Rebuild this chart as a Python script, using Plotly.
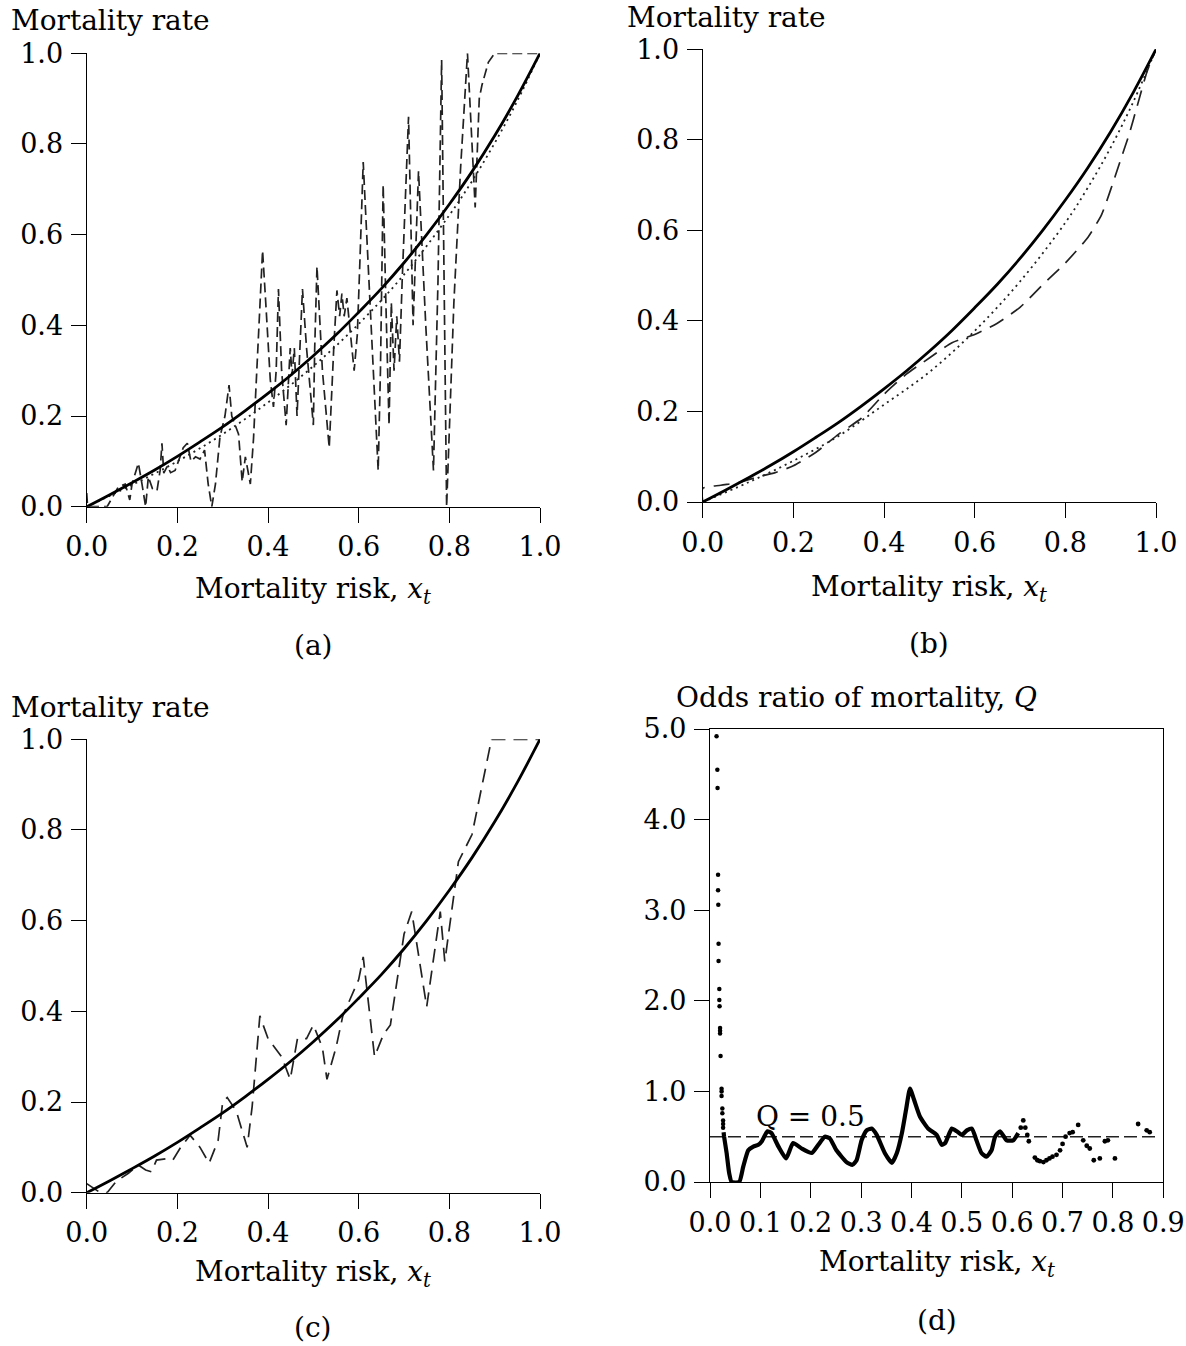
import plotly.graph_objects as go

W, H = 1186, 1346

# ---------------- data ----------------
# reference model curve (solid), panels a, b, c
model_x = [0.0, 0.05, 0.1, 0.15, 0.2, 0.25, 0.3, 0.35, 0.4, 0.45, 0.5,
           0.55, 0.6, 0.65, 0.7, 0.75, 0.8, 0.85, 0.9, 0.95, 1.0]
model_y = [0.0, 0.026, 0.053, 0.081, 0.111, 0.143, 0.176, 0.212, 0.25, 0.29, 0.333,
           0.379, 0.429, 0.481, 0.538, 0.6, 0.667, 0.739, 0.818, 0.905, 1.0]

# panel (a) dotted curve
a_dot_x = [0.0, 0.1, 0.2, 0.3, 0.4, 0.5, 0.6, 0.7, 0.8, 0.85, 0.9, 0.95, 1.0]
a_dot_y = [0.0, 0.048, 0.1, 0.16, 0.23, 0.31, 0.403, 0.512, 0.643, 0.718, 0.802, 0.895, 1.0]

# panel (a) dashed (observed rates)
a_dash_x = [0, 0.002, 0.045, 0.07, 0.085, 0.095, 0.1, 0.114, 0.122, 0.13,
            0.136, 0.145, 0.155, 0.162, 0.166, 0.17, 0.178, 0.185, 0.195, 0.206,
            0.213, 0.222, 0.23, 0.24, 0.25, 0.26, 0.268, 0.276, 0.284, 0.294,
            0.305, 0.314, 0.32, 0.335, 0.343, 0.35, 0.361, 0.368, 0.378, 0.388,
            0.395, 0.405, 0.412, 0.418, 0.423, 0.43, 0.44, 0.449, 0.453, 0.458,
            0.464, 0.47, 0.476, 0.485, 0.5, 0.503, 0.508, 0.52, 0.535, 0.545,
            0.552, 0.558, 0.563, 0.568, 0.574, 0.59, 0.597, 0.603, 0.61, 0.625,
            0.643, 0.648, 0.654, 0.66, 0.667, 0.672, 0.678, 0.684, 0.69, 0.696,
            0.71, 0.72, 0.732, 0.748, 0.765, 0.775, 0.783, 0.794, 0.81, 0.825,
            0.84, 0.857, 0.866, 0.872, 0.886, 0.9, 1.0]
a_dash_y = [0.03, 0, 0, 0.044, 0.05, 0.015, 0.05, 0.096, 0.05, 0,
            0.066, 0.04, 0.035, 0.08, 0.14, 0.074, 0.09, 0.075, 0.08, 0.11,
            0.13, 0.14, 0.1, 0.11, 0.105, 0.125, 0.05, 0, 0.05, 0.154,
            0.2, 0.268, 0.2, 0.16, 0.055, 0.11, 0.05, 0.15, 0.35, 0.565,
            0.45, 0.28, 0.22, 0.3, 0.48, 0.3, 0.18, 0.35, 0.29, 0.35,
            0.2, 0.35, 0.48, 0.35, 0.18, 0.35, 0.53, 0.3, 0.13, 0.35,
            0.477, 0.42, 0.47, 0.42, 0.46, 0.3, 0.38, 0.55, 0.76, 0.45,
            0.08, 0.3, 0.71, 0.45, 0.18, 0.45, 0.3, 0.42, 0.32, 0.5,
            0.86, 0.4, 0.74, 0.4, 0.08, 0.5, 0.985, 0, 0.45, 0.75,
            1.0, 0.66, 0.9, 0.93, 0.98, 1.0, 1.0]

# panel (b) dotted and dashed curves
b_dot_x = [0.0, 0.1, 0.2, 0.3, 0.4, 0.5, 0.6, 0.7, 0.8, 0.85, 0.9, 0.95, 1.0]
b_dot_y = [0.0, 0.043, 0.091, 0.146, 0.215, 0.287, 0.378, 0.487, 0.617, 0.695, 0.783, 0.884, 1.0]
b_dash_x = [0, 0, 0.04, 0.08, 0.12, 0.16, 0.2, 0.25, 0.3, 0.35, 0.4, 0.45, 0.5, 0.55,
            0.6, 0.65, 0.7, 0.75, 0.8, 0.85, 0.88, 0.9, 0.92, 0.94, 0.96, 0.98, 1.0]
b_dash_y = [0, 0.03, 0.037, 0.043, 0.055, 0.065, 0.08, 0.11, 0.15, 0.185, 0.238, 0.283,
            0.318, 0.352, 0.37, 0.395, 0.43, 0.48, 0.528, 0.585, 0.635, 0.69, 0.75,
            0.81, 0.88, 0.95, 1.0]

# panel (c) dashed
c_dash_x = [0, 0.015, 0.03, 0.045, 0.065, 0.092, 0.114, 0.13, 0.143, 0.154,
            0.175, 0.19, 0.206, 0.228, 0.25, 0.27, 0.29, 0.3, 0.31, 0.33,
            0.34, 0.354, 0.365, 0.375, 0.382, 0.4, 0.43, 0.449, 0.465, 0.485,
            0.5, 0.52, 0.53, 0.55, 0.565, 0.6, 0.61, 0.635, 0.655, 0.67,
            0.69, 0.7, 0.717, 0.73, 0.75, 0.78, 0.79, 0.82, 0.85, 0.893,
            0.95, 1.0]
c_dash_y = [0.02, 0.01, 0, 0, 0.025, 0.043, 0.061, 0.05, 0.046, 0.072,
            0.075, 0.072, 0.098, 0.127, 0.1, 0.065, 0.116, 0.2, 0.21, 0.18,
            0.146, 0.1, 0.19, 0.3, 0.39, 0.34, 0.3, 0.25, 0.34, 0.34,
            0.37, 0.32, 0.25, 0.32, 0.39, 0.47, 0.52, 0.3, 0.35, 0.37,
            0.5, 0.57, 0.62, 0.54, 0.41, 0.62, 0.51, 0.73, 0.79, 1.0,
            1.0, 1.0]

# panel (d) odds ratio Q: sparse dots near the start, dense trace, sparse tail
d_head_x = [0.013, 0.0146, 0.015, 0.016, 0.016, 0.0165, 0.017, 0.017, 0.0185, 0.0185,
            0.019, 0.02, 0.02, 0.02, 0.021, 0.023, 0.023, 0.023, 0.0245, 0.0245,
            0.026, 0.026, 0.026]
d_head_y = [4.92, 4.55, 4.35, 3.39, 3.22, 3.06, 2.63, 2.44, 2.13, 2.01,
            1.94, 1.7, 1.67, 1.64, 1.39, 1.03, 1.0, 0.95, 0.81, 0.76,
            0.68, 0.64, 0.6]
d_main_x = [0.027, 0.028, 0.033, 0.038, 0.043, 0.058, 0.066, 0.076, 0.086, 0.096,
            0.103, 0.114, 0.122, 0.136, 0.151, 0.165, 0.182, 0.202, 0.215, 0.228,
            0.238, 0.251, 0.271, 0.283, 0.291, 0.301, 0.311, 0.321, 0.331, 0.347,
            0.361, 0.371, 0.381, 0.389, 0.397, 0.405, 0.417, 0.433, 0.45, 0.46,
            0.467, 0.48, 0.49, 0.5, 0.51, 0.52, 0.529, 0.539, 0.549, 0.559,
            0.566, 0.576, 0.589, 0.602, 0.612]
d_main_y = [0.55, 0.5, 0.32, 0.1, 0.0, 0.0, 0.17, 0.35, 0.39, 0.41,
            0.45, 0.56, 0.54, 0.39, 0.26, 0.43, 0.37, 0.32, 0.41, 0.5,
            0.48, 0.35, 0.22, 0.19, 0.24, 0.46, 0.57, 0.59, 0.52, 0.32,
            0.21, 0.32, 0.54, 0.79, 1.03, 0.91, 0.72, 0.59, 0.52, 0.41,
            0.43, 0.59, 0.56, 0.52, 0.57, 0.59, 0.46, 0.32, 0.28, 0.35,
            0.5, 0.56, 0.46, 0.46, 0.54]
d_tail_x = [0.617, 0.622, 0.626, 0.63, 0.633, 0.645, 0.65, 0.655, 0.662, 0.668,
            0.674, 0.68, 0.688, 0.695, 0.7, 0.706, 0.714, 0.72, 0.731, 0.741,
            0.748, 0.754, 0.762, 0.774, 0.784, 0.79, 0.804, 0.85, 0.867, 0.873]
d_tail_y = [0.6, 0.68, 0.6, 0.52, 0.45, 0.27, 0.24, 0.23, 0.22, 0.24,
            0.26, 0.28, 0.3, 0.35, 0.42, 0.5, 0.54, 0.55, 0.63, 0.46,
            0.4, 0.37, 0.24, 0.26, 0.45, 0.46, 0.26, 0.64, 0.57, 0.55]
q_ref_x = [0.0, 0.884]
q_ref_y = [0.5, 0.5]

ticks_unit = [0.0, 0.2, 0.4, 0.6, 0.8, 1.0]
ticks_d_x = [0.0, 0.1, 0.2, 0.3, 0.4, 0.5, 0.6, 0.7, 0.8, 0.9]
ticks_d_y = [0.0, 1.0, 2.0, 3.0, 4.0, 5.0]

# ---------------- figure ----------------
FONT = "DejaVu Serif"
FS_TICK = 27
FS = 28
INK = "black"

def fx(p):
    return p / W

def fy(p):
    return 1 - p / H

fig = go.Figure()

SOLID = dict(color=INK, width=2.8)
DOTTED = dict(color="#222", width=1.8, dash="2px,4px")
DASHED = dict(color="#222", width=1.7, dash="10px,5px")

# (a)
fig.add_trace(go.Scatter(x=a_dot_x, y=a_dot_y, mode="lines", line=dict(DOTTED, shape="spline"), xaxis="x", yaxis="y"))
fig.add_trace(go.Scatter(x=a_dash_x, y=a_dash_y, mode="lines", line=DASHED, xaxis="x", yaxis="y"))
fig.add_trace(go.Scatter(x=model_x, y=model_y, mode="lines", line=dict(SOLID, shape="spline"), xaxis="x", yaxis="y"))
# (b)
fig.add_trace(go.Scatter(x=b_dot_x, y=b_dot_y, mode="lines", line=dict(DOTTED, shape="spline"), xaxis="x2", yaxis="y2"))
fig.add_trace(go.Scatter(x=b_dash_x, y=b_dash_y, mode="lines",
                         line=dict(color="#222", width=1.7, dash="16px,9px", shape="spline", smoothing=0.6),
                         xaxis="x2", yaxis="y2"))
fig.add_trace(go.Scatter(x=model_x, y=model_y, mode="lines", line=dict(SOLID, shape="spline"), xaxis="x2", yaxis="y2"))
# (c)
fig.add_trace(go.Scatter(x=c_dash_x, y=c_dash_y, mode="lines",
                         line=dict(color="#222", width=1.7, dash="14px,8px"), xaxis="x3", yaxis="y3"))
fig.add_trace(go.Scatter(x=model_x, y=model_y, mode="lines", line=dict(SOLID, shape="spline"), xaxis="x3", yaxis="y3"))
# (d)
fig.add_trace(go.Scatter(x=q_ref_x, y=q_ref_y, mode="lines",
                         line=dict(color="#222", width=1.6, dash="13px,5px"), xaxis="x4", yaxis="y4"))
fig.add_trace(go.Scatter(x=d_head_x, y=d_head_y, mode="markers",
                         marker=dict(size=4.5, color=INK), cliponaxis=False, xaxis="x4", yaxis="y4"))
fig.add_trace(go.Scatter(x=d_main_x, y=d_main_y, mode="lines",
                         line=dict(color=INK, width=4.2, shape="spline", smoothing=0.5), xaxis="x4", yaxis="y4"))
fig.add_trace(go.Scatter(x=d_tail_x, y=d_tail_y, mode="markers",
                         marker=dict(size=4.8, color=INK), xaxis="x4", yaxis="y4"))

axis_common = dict(showline=True, linecolor=INK, linewidth=1.3, ticks="outside",
                   ticklen=15, tickwidth=1.3, tickcolor=INK, showgrid=False, zeroline=False,
                   automargin=False,
                   tickfont=dict(family=FONT, size=FS_TICK, color=INK), tickformat=".1f")

def xa(dom, rng, tv, anchor, **kw):
    d = dict(axis_common, domain=dom, range=rng, tickvals=tv, anchor=anchor,
             ticklabelstandoff=1)
    d.update(kw)
    return d

def ya(dom, rng, tv, anchor, **kw):
    d = dict(axis_common, domain=dom, range=rng, tickvals=tv, anchor=anchor,
             ticklabelstandoff=2)
    d.update(kw)
    return d

# pixel boxes of the plot areas
A = (86.7, 540.0, 53.3, 506.7)
B = (702.7, 1156.0, 49.3, 502.0)
C = (86.7, 540.0, 739.3, 1192.7)
D = (710.0, 1163.3, 729.0, 1182.0)

def xdom(b):
    return [fx(b[0]), fx(b[1])]

def ydom(b):
    return [fy(b[3]), fy(b[2])]

fig.update_layout(
    width=W, height=H,
    margin=dict(l=0, r=0, t=0, b=0, autoexpand=False),
    paper_bgcolor="white", plot_bgcolor="white",
    showlegend=False,
    font=dict(family=FONT, size=FS, color=INK),
    xaxis=xa(xdom(A), [0, 1], ticks_unit, "y"),
    yaxis=ya(ydom(A), [0, 1], ticks_unit, "x"),
    xaxis2=xa(xdom(B), [0, 1], ticks_unit, "y2"),
    yaxis2=ya(ydom(B), [0, 1], ticks_unit, "x2"),
    xaxis3=xa(xdom(C), [0, 1], ticks_unit, "y3"),
    yaxis3=ya(ydom(C), [0, 1], ticks_unit, "x3"),
    xaxis4=xa(xdom(D), [0, 0.9], ticks_d_x, "y4", mirror=True),
    yaxis4=ya(ydom(D), [0, 5], ticks_d_y, "x4", mirror=True),
)

def label(text, xp, yp, size=FS, anchor="center"):
    fig.add_annotation(text=text, x=fx(xp), y=fy(yp), xref="paper", yref="paper",
                       xanchor=anchor, yanchor="middle", showarrow=False,
                       font=dict(family=FONT, size=size, color=INK))

risk = "Mortality risk, <i>x</i><sub><i>t</i></sub>"
label("Mortality rate", 110, 21)
label("Mortality rate", 726, 18)
label("Mortality rate", 110, 707)
label("Odds ratio of mortality, <i>Q</i>", 856, 697)
label(risk, 313, 590)
label(risk, 929, 588)
label(risk, 313, 1273)
label(risk, 937, 1263)
label("(a)", 313, 645)
label("(b)", 929, 643)
label("(c)", 313, 1327)
label("(d)", 937, 1320)

fig.add_annotation(text="Q = 0.5", x=0.2, y=0.72, xref="x4", yref="y4", showarrow=False,
                   font=dict(family=FONT, size=28, color=INK), xanchor="center", yanchor="middle")

fig.write_html("out.html", config=dict(displayModeBar=False))
